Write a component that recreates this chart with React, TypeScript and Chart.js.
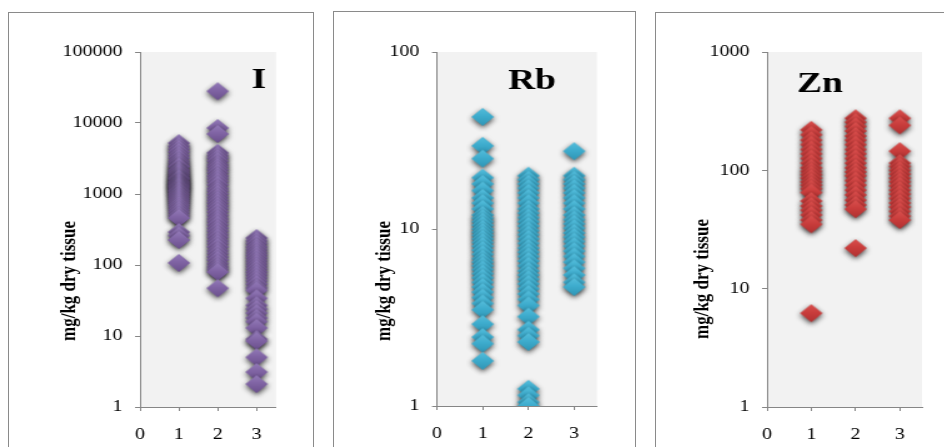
import React, { useEffect, useRef } from "react";
import { Chart, registerables } from "chart.js";

Chart.register(...registerables);

// ---------------- data ----------------
const xCategories = [1, 2, 3];
const xTickValues = [0, 1, 2, 3];
const xTickLabels = ["0", "1", "2", "3"];
const yTitle = "mg/kg dry tissue";

// Panel "I"
const iGroup1 = [5200, 4700, 4300, 3900, 3500, 3200, 2900, 2700, 2500, 2400, 2200, 2100, 2000, 1900, 1800, 1700, 1650, 1600, 1500, 1450, 1400, 1350, 1300, 1250, 1200, 1150, 1100, 1050, 1000, 950, 900, 850, 800, 750, 700, 650, 600, 550, 500, 460, 290, 260, 225, 107];
const iGroup2 = [28000, 8500, 7000, 3800, 3500, 3200, 2900, 2600, 2400, 2200, 2000, 1800, 1650, 1500, 1350, 1200, 1100, 1000, 900, 820, 750, 680, 620, 560, 500, 450, 410, 370, 330, 300, 270, 245, 220, 200, 180, 160, 145, 130, 118, 105, 95, 87, 80, 47];
const iGroup3 = [240, 220, 200, 180, 165, 150, 138, 126, 115, 105, 96, 88, 80, 73, 66, 60, 54, 48, 44, 34, 27, 24, 21, 18, 16, 13, 9, 8.5, 5, 3.1, 2.1];
const iTicks = [1, 10, 100, 1000, 10000, 100000];
const iTickLabels = ["1", "10", "100", "1000", "10000", "100000"];

// Panel "Rb"
const rbGroup1 = [43, 29.5, 25, 19.5, 18, 16.5, 15, 14, 13, 12, 11.5, 11, 10.5, 10, 9.6, 9.2, 8.8, 8.4, 8, 7.6, 7.2, 6.8, 6.5, 6.2, 5.9, 5.6, 5.3, 5, 4.7, 4.4, 4.1, 3.8, 3.5, 2.9, 2.45, 2.25, 1.8];
const rbGroup2 = [20, 19, 18, 17, 16, 15, 14, 13, 12.3, 11.6, 11, 10.4, 9.8, 9.3, 8.8, 8.3, 7.8, 7.4, 7, 6.6, 6.2, 5.8, 5.5, 5.2, 4.9, 4.6, 4.3, 4, 3.7, 3.2, 2.7, 2.5, 2.3, 1.25, 1.15, 1.05, 1.0];
const rbGroup3 = [27.5, 20, 19, 18, 17, 16, 15, 14, 13, 12, 11.3, 10.7, 10.1, 9.5, 9, 8.5, 8, 7.5, 7, 6.5, 6, 5.5, 5, 4.7];
const rbTicks = [1, 10, 100];
const rbTickLabels = ["1", "10", "100"];

// Panel "Zn"
const znGroup1 = [220, 200, 180, 165, 150, 138, 126, 115, 105, 98, 92, 86, 80, 75, 70, 65, 55, 50, 46, 42, 38, 35, 6.2];
const znGroup2 = [275, 255, 235, 215, 195, 180, 165, 150, 138, 126, 115, 105, 97, 90, 82, 75, 68, 62, 56, 51, 47, 22];
const znGroup3 = [275, 240, 145, 115, 108, 100, 93, 86, 80, 74, 68, 63, 58, 53, 49, 45, 41, 38];
const znTicks = [1, 10, 100, 1000];
const znTickLabels = ["1", "10", "100", "1000"];

// ---------------- layout / style ----------------
const STRETCH = 1.25; // horizontal stretch of the original picture
const CANVAS_TOP = 14;
const PAGE_H = 447;
const FONT = '"Liberation Serif", "Times New Roman", serif';
const AXIS_COLOR = "#868686";
const PLOT_BG = "#F2F2F2";

type Layout = {
  x0: number; x1: number; left: number; right: number; top: number; bottom: number;
  yTitleX: number; yTitleY: number; labelX: number; labelBase: number;
};

type PanelProps = {
  name: string;
  groups: number[][];
  ticks: number[];
  tickLabels: string[];
  colors: [string, string, string];
  layout: Layout;
};

function makeMarker(colors: [string, string, string]) {
  const c = document.createElement("canvas");
  const w = 32, h = 36;
  c.width = w; c.height = h;
  const ctx = c.getContext("2d")!;
  const cx = w / 2, cy = h / 2, hw = 9, hh = 9;
  ctx.shadowColor = "rgba(0,0,0,0.7)";
  ctx.shadowBlur = 5;
  ctx.shadowOffsetY = 2;
  const g = ctx.createLinearGradient(0, cy - hh, 0, cy + hh);
  g.addColorStop(0, colors[0]);
  g.addColorStop(0.45, colors[1]);
  g.addColorStop(1, colors[2]);
  ctx.fillStyle = g;
  ctx.beginPath();
  ctx.moveTo(cx, cy - hh);
  ctx.lineTo(cx + hw, cy);
  ctx.lineTo(cx, cy + hh);
  ctx.lineTo(cx - hw, cy);
  ctx.closePath();
  ctx.fill();
  return c;
}

function Panel({ name, groups, ticks, tickLabels, colors, layout }: PanelProps) {
  const ref = useRef<HTMLCanvasElement | null>(null);
  const wc = Math.round((layout.x1 - layout.x0) / STRETCH);
  const hc = PAGE_H - CANVAS_TOP;

  useEffect(() => {
    if (!ref.current) return;
    const yAxisW = (layout.left - layout.x0) / STRETCH;
    const padRight = wc - (layout.right - layout.x0) / STRETCH;
    const xAxisH = PAGE_H - layout.bottom;
    const padTop = layout.top - CANVAS_TOP;
    const points = groups.flatMap((vals, gi) => vals.map((v) => ({ x: xCategories[gi], y: v })));
    const marker = makeMarker(colors);

    const decor = {
      id: "decor",
      beforeDraw(chart: any) {
        const { ctx, chartArea: a } = chart;
        ctx.save();
        ctx.fillStyle = PLOT_BG;
        ctx.fillRect(a.left, a.top, a.right - a.left, a.bottom - a.top);
        ctx.restore();
      },
      afterDraw(chart: any) {
        const { ctx } = chart;
        ctx.save();
        ctx.fillStyle = "#000";
        ctx.font = `bold 30px ${FONT}`;
        ctx.textAlign = "center";
        ctx.textBaseline = "alphabetic";
        ctx.fillText(name, (layout.labelX - layout.x0) / STRETCH, layout.labelBase - CANVAS_TOP);
        ctx.translate((layout.yTitleX - layout.x0) / STRETCH, layout.yTitleY - CANVAS_TOP);
        ctx.rotate(-Math.PI / 2);
        ctx.font = `bold 17px ${FONT}`;
        ctx.textBaseline = "middle";
        ctx.fillText(yTitle, 0, 0);
        ctx.restore();
      },
    };

    const chart = new Chart(ref.current, {
      type: "scatter",
      data: {
        datasets: [
          {
            data: points,
            pointStyle: marker as any,
            pointRadius: 9,
            pointHoverRadius: 9,
            showLine: false,
          },
        ],
      },
      options: {
        animation: false,
        responsive: true,
        maintainAspectRatio: false,
        events: [],
        layout: { padding: { top: padTop, right: padRight, left: 0, bottom: 0 } },
        plugins: { legend: { display: false }, tooltip: { enabled: false } },
        scales: {
          x: {
            type: "linear",
            min: 0,
            max: 3.5,
            afterFit: (s: any) => { s.height = xAxisH; },
            afterBuildTicks: (s: any) => { s.ticks = xTickValues.map((v) => ({ value: v })); },
            ticks: {
              font: { family: FONT, size: 16 },
              color: "#000",
              padding: 14,
              maxRotation: 0,
              callback: (v: any) => xTickLabels[xTickValues.indexOf(Number(v))] ?? "",
            },
            grid: { drawOnChartArea: false, drawTicks: true, tickLength: 4, color: AXIS_COLOR },
            border: { display: true, color: AXIS_COLOR, width: 1 },
          },
          y: {
            type: "logarithmic",
            min: ticks[0],
            max: ticks[ticks.length - 1],
            afterFit: (s: any) => { s.width = yAxisW; },
            afterBuildTicks: (s: any) => { s.ticks = ticks.map((v) => ({ value: v })); },
            ticks: {
              font: { family: FONT, size: 16 },
              color: "#000",
              padding: 10,
              callback: (v: any) => tickLabels[ticks.indexOf(Number(v))] ?? "",
            },
            grid: { drawOnChartArea: false, drawTicks: true, tickLength: 4, color: AXIS_COLOR },
            border: { display: true, color: AXIS_COLOR, width: 1 },
          },
        },
      },
      plugins: [decor],
    } as any);
    return () => chart.destroy();
  }, []);

  return (
    <div
      style={{
        position: "absolute",
        left: layout.x0,
        top: CANVAS_TOP,
        width: wc,
        height: hc,
        transform: `scaleX(${STRETCH})`,
        transformOrigin: "0 0",
      }}
    >
      <canvas ref={ref} style={{ display: "block" }} />
    </div>
  );
}

const borderStyle = (left: number, top: number, width: number): React.CSSProperties => ({
  position: "absolute",
  left,
  top,
  width,
  height: 480,
  border: "1px solid #8a8a8a",
  boxSizing: "border-box",
});

export default function App() {
  return (
    <div
      style={{
        position: "fixed",
        left: 0,
        top: 0,
        width: 944,
        height: 447,
        overflow: "hidden",
        background: "#fff",
      }}
    >
      <div style={borderStyle(8, 12, 306)} />
      <div style={borderStyle(333, 11, 303)} />
      <div style={borderStyle(655, 12, 400)} />
      <Panel
        name="I"
        groups={[iGroup1, iGroup2, iGroup3]}
        ticks={iTicks}
        tickLabels={iTickLabels}
        colors={["#937ab8", "#8064a4", "#6a4f8c"]}
        layout={{ x0: 10, x1: 311, left: 140, right: 276, top: 52, bottom: 407, yTitleX: 69, yTitleY: 281, labelX: 259, labelBase: 88 }}
      />
      <Panel
        name="Rb"
        groups={[rbGroup1, rbGroup2, rbGroup3]}
        ticks={rbTicks}
        tickLabels={rbTickLabels}
        colors={["#55bddb", "#3eaccd", "#2f95b5"]}
        layout={{ x0: 335, x1: 633, left: 437, right: 597, top: 52, bottom: 406, yTitleX: 384, yTitleY: 281, labelX: 532, labelBase: 89 }}
      />
      <Panel
        name="Zn"
        groups={[znGroup1, znGroup2, znGroup3]}
        ticks={znTicks}
        tickLabels={znTickLabels}
        colors={["#d9504e", "#c93d3c", "#b03131"]}
        layout={{ x0: 657, x1: 944, left: 767, right: 922, top: 52, bottom: 407, yTitleX: 703, yTitleY: 279, labelX: 820, labelBase: 92 }}
      />
    </div>
  );
}
